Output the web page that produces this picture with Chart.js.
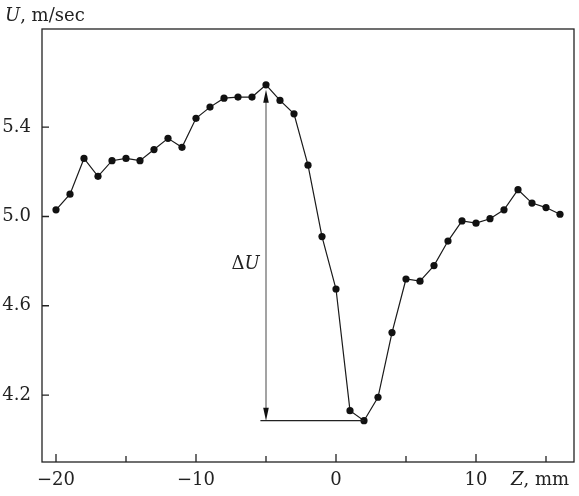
<!DOCTYPE html>
<html>
<head>
<meta charset="utf-8">
<script src="https://cdn.jsdelivr.net/npm/chart.js@4"></script>
<style>
  html, body { margin: 0; padding: 0; background: #fff; }
  #wrap { width: 579px; height: 496px; }
</style>
</head>
<body>
<div id="wrap"><canvas id="grafico" width="579" height="496"></canvas></div>
<script>
const zVals = [-20, -19, -18, -17, -16, -15, -14, -13, -12, -11, -10, -9, -8, -7, -6, -5, -4, -3, -2, -1,
    0, 1, 2, 3, 4, 5, 6, 7, 8, 9, 10, 11, 12, 13, 14, 15, 16];
const uVals = [5.03, 5.10, 5.26, 5.18, 5.25, 5.26, 5.25, 5.30, 5.35, 5.31, 5.44, 5.49, 5.53, 5.535, 5.535, 5.59, 5.52, 5.46, 5.23, 4.91,
    4.675, 4.13, 4.085, 4.19, 4.48, 4.72, 4.71, 4.78, 4.89, 4.98, 4.97, 4.99, 5.03, 5.12, 5.06, 5.04, 5.01];
const xTicks = [-20, -15, -10, -5, 0, 5, 10, 15];
const xLabels = [-20, -10, 0, 10];
const yTicks = [4.2, 4.6, 5.0, 5.4];

// flecha de ΔU
const flechaZ = -5;
const flechaArriba = 5.59;
const flechaAbajo = 4.085;
const lineaBaseDesde = -5.4;
const lineaBaseHasta = 2;
const etiquetaDelta = { z: -5.45, u: 4.795 };

const fuente = 'DejaVu Serif';
const tam = 18;

const marco = {
    id: 'marco',
    afterDraw(chart) {
        const ctx = chart.ctx;
        const a = chart.chartArea;
        const sx = chart.scales.x, sy = chart.scales.y;
        ctx.save();
        ctx.strokeStyle = '#222';
        ctx.lineWidth = 1.3;
        ctx.strokeRect(a.left, a.top, a.right - a.left, a.bottom - a.top);

        // ticks hacia adentro
        ctx.beginPath();
        xTicks.forEach(v => {
            const px = sx.getPixelForValue(v);
            const largo = xLabels.includes(v) ? 8 : 6;
            ctx.moveTo(px, a.bottom);
            ctx.lineTo(px, a.bottom - largo);
        });
        yTicks.forEach(v => {
            const py = sy.getPixelForValue(v);
            ctx.moveTo(a.left, py);
            ctx.lineTo(a.left + 7, py);
        });
        ctx.stroke();

        // flecha vertical gris
        const fx = sx.getPixelForValue(flechaZ);
        const yTop = sy.getPixelForValue(flechaArriba) + 5;
        const yBot = sy.getPixelForValue(flechaAbajo);
        ctx.strokeStyle = '#8c8c8c';
        ctx.lineWidth = 1.6;
        ctx.beginPath();
        ctx.moveTo(fx, yTop + 10);
        ctx.lineTo(fx, yBot - 10);
        ctx.stroke();
        ctx.fillStyle = '#111';
        ctx.beginPath();
        ctx.moveTo(fx, yTop);
        ctx.lineTo(fx - 2.8, yTop + 13);
        ctx.lineTo(fx + 2.8, yTop + 13);
        ctx.closePath();
        ctx.fill();
        ctx.beginPath();
        ctx.moveTo(fx, yBot);
        ctx.lineTo(fx - 2.8, yBot - 13);
        ctx.lineTo(fx + 2.8, yBot - 13);
        ctx.closePath();
        ctx.fill();

        // linea base
        ctx.strokeStyle = '#222';
        ctx.lineWidth = 1.2;
        ctx.beginPath();
        ctx.moveTo(sx.getPixelForValue(lineaBaseDesde), yBot);
        ctx.lineTo(sx.getPixelForValue(lineaBaseHasta), yBot);
        ctx.stroke();

        // textos
        ctx.fillStyle = '#222';
        ctx.textBaseline = 'alphabetic';
        ctx.textAlign = 'left';
        const lx = sx.getPixelForValue(etiquetaDelta.z);
        const ly = sy.getPixelForValue(etiquetaDelta.u) + 7;
        ctx.font = 'italic ' + tam + 'px "' + fuente + '"';
        const wU = ctx.measureText('U').width;
        ctx.fillText('U', lx - wU, ly);
        ctx.font = tam + 'px "' + fuente + '"';
        const wD = ctx.measureText('\u0394').width;
        ctx.fillText('\u0394', lx - wU - wD, ly);

        // titulo eje y
        ctx.font = 'italic ' + tam + 'px "' + fuente + '"';
        ctx.fillText('U', 5, 21);
        const w1 = ctx.measureText('U').width;
        ctx.font = tam + 'px "' + fuente + '"';
        ctx.fillText(', m/sec', 5 + w1, 21);

        // titulo eje x
        ctx.font = 'italic ' + tam + 'px "' + fuente + '"';
        ctx.fillText('Z', 511, 485);
        const w2 = ctx.measureText('Z').width;
        ctx.font = tam + 'px "' + fuente + '"';
        ctx.fillText(', mm', 511 + w2, 485);
        ctx.restore();
    }
};

new Chart(document.getElementById('grafico'), {
    type: 'scatter',
    data: {
        datasets: [{
            data: zVals.map((z, i) => ({ x: z, y: uVals[i] })),
            showLine: true,
            borderColor: '#1a1a1a',
            borderWidth: 1.2,
            backgroundColor: '#111',
            pointRadius: 3.6,
            pointBorderWidth: 0
        }]
    },
    options: {
        responsive: false,
        animation: false,
        devicePixelRatio: 1,
        layout: { padding: { top: 29, right: 5, left: 0, bottom: 0 } },
        plugins: { legend: { display: false }, tooltip: { enabled: false } },
        scales: {
            x: {
                type: 'linear',
                min: -21,
                max: 17,
                grid: { display: false },
                border: { display: false },
                afterBuildTicks: s => { s.ticks = xTicks.map(v => ({ value: v })); },
                afterFit: s => { s.height = 34; },
                ticks: {
                    autoSkip: false,
                    maxRotation: 0,
                    padding: 1,
                    color: '#222',
                    font: { family: fuente, size: tam, lineHeight: 1 },
                    callback: v => xLabels.includes(v) ? (v < 0 ? '\u2212' + Math.abs(v) : String(v)) : ''
                }
            },
            y: {
                min: 3.9,
                max: 5.84,
                grid: { display: false },
                border: { display: false },
                afterBuildTicks: s => { s.ticks = yTicks.map(v => ({ value: v })); },
                afterFit: s => { s.width = 42; },
                ticks: {
                    padding: 3,
                    color: '#222',
                    font: { family: fuente, size: tam },
                    callback: v => v.toFixed(1)
                }
            }
        }
    },
    plugins: [marco]
});
</script>
</body>
</html>
